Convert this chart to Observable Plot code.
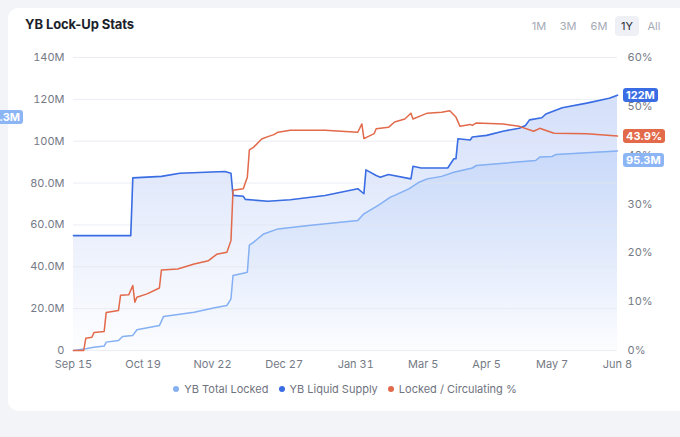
<!DOCTYPE html>
<html><head><meta charset="utf-8">
<script src="https://cdn.jsdelivr.net/npm/d3@7"></script>
<script src="https://cdn.jsdelivr.net/npm/@observablehq/plot@0.6"></script>
<style>
html,body{margin:0;padding:0;background:#f3f4f8;width:680px;height:437px;overflow:hidden;font-family:Inter,"Noto Sans",sans-serif;}
#card{position:absolute;left:8px;top:8px;width:700px;height:403px;background:#fff;border-radius:10px;}
#title{position:absolute;left:25px;top:16px;font-size:13px;font-weight:700;color:#1d1f2c;letter-spacing:-0.1px;}
.btn{position:absolute;top:16px;height:20px;line-height:20px;font-size:11px;color:#a6aab5;text-align:center;border-radius:4px;}
.btn.on{background:#eef0f6;color:#2b2d38;}
#chart{position:absolute;left:0;top:0;}
.badge{position:absolute;height:14px;line-height:14px;padding:0 3px;font-size:11px;font-weight:700;color:#fff;border-radius:3px;}
#legend{position:absolute;top:382px;left:0;width:690px;text-align:center;font-size:11px;color:#6f7380;}
#legend span.item{margin:0 5px;}
#legend span.dot{display:inline-block;width:6px;height:6px;border-radius:50%;margin-right:5px;vertical-align:1px;}
</style></head>
<body>
<div id="card"></div>
<div id="title">YB Lock-Up Stats</div>
<div id="btns"></div>
<div id="chart"></div>
<div id="badges"></div>
<div id="legend"></div>
<script>
// ---- data ----
const ranges = ["1M","3M","6M","1Y","All"];
const activeRange = "1Y";
const seriesNames = ["YB Total Locked","YB Liquid Supply","Locked / Circulating %"];
const seriesColors = ["#85b0f3","#3a6de3","#e2694a"];

const xStart = "2024-09-15", xEnd = "2025-06-08";
const xTicks = ["2024-09-15","2024-10-19","2024-11-22","2024-12-27","2025-01-31","2025-03-05","2025-04-05","2025-05-07","2025-06-08"];
const yTicks = [0,20,40,60,80,100,120,140];
const yTickLabels = ["0","20.0M","40.0M","60.0M","80.0M","100M","120M","140M"];
const pctTicks = [0,10,20,30,40,50,60];

const liquidDates = ["2024-09-15","2024-10-13","2024-10-14","2024-10-28","2024-11-06","2024-11-28","2024-12-01","2024-12-02","2024-12-07","2024-12-08","2024-12-19","2024-12-30","2025-01-16","2025-02-01","2025-02-04","2025-02-05","2025-02-10","2025-02-12","2025-02-16","2025-02-27","2025-02-28","2025-03-04","2025-03-17","2025-03-20","2025-03-21","2025-03-22","2025-03-28","2025-03-29","2025-04-05","2025-04-13","2025-04-21","2025-04-24","2025-04-26","2025-05-02","2025-05-04","2025-05-12","2025-05-24","2025-06-04","2025-06-08"];
const liquidVals  = [54.9,54.9,82.5,83.2,84.7,85.5,84.7,74.1,73.7,72.2,71.3,72.0,74.1,77.3,74.9,86.3,83.6,82.8,84.1,82.0,88.0,87.2,87.2,91.6,91.6,101.2,100.6,102.0,102.8,104.8,106.2,107.5,110.2,111.2,113.0,116.0,118.2,120.5,122.0];

const lockedDates = ["2024-09-15","2024-09-21","2024-09-25","2024-09-30","2024-10-01","2024-10-07","2024-10-09","2024-10-14","2024-10-16","2024-10-27","2024-10-29","2024-11-13","2024-11-23","2024-11-29","2024-12-01","2024-12-02","2024-12-07","2024-12-09","2024-12-10","2024-12-12","2024-12-17","2024-12-24","2025-01-08","2025-02-01","2025-02-04","2025-02-11","2025-02-17","2025-02-19","2025-02-26","2025-03-03","2025-03-07","2025-03-14","2025-03-20","2025-03-29","2025-03-31","2025-04-29","2025-05-01","2025-05-07","2025-05-09","2025-06-08"];
const lockedVals  = [0,0.8,1.6,2.1,4.0,4.8,6.7,7.2,9.9,11.9,16.2,18.3,20.4,21.5,24.7,35.8,36.9,37.4,50.4,51.7,55.7,58.1,59.7,62.1,65.3,69.3,73.3,74.1,77.2,80.4,82.0,83.2,85.2,87.2,88.4,90.8,92.4,92.7,93.7,95.3];

const pctDates = ["2024-09-15","2024-09-20","2024-09-21","2024-09-24","2024-09-25","2024-09-30","2024-10-01","2024-10-07","2024-10-08","2024-10-12","2024-10-14","2024-10-15","2024-10-16","2024-10-21","2024-10-27","2024-10-28","2024-11-05","2024-11-13","2024-11-20","2024-11-24","2024-11-29","2024-12-01","2024-12-02","2024-12-07","2024-12-09","2024-12-10","2024-12-12","2024-12-16","2024-12-19","2024-12-22","2024-12-24","2024-12-30","2025-01-16","2025-02-01","2025-02-03","2025-02-04","2025-02-09","2025-02-10","2025-02-16","2025-02-19","2025-02-24","2025-02-27","2025-02-28","2025-03-04","2025-03-07","2025-03-14","2025-03-18","2025-03-21","2025-03-23","2025-03-28","2025-03-29","2025-03-31","2025-04-13","2025-04-21","2025-04-28","2025-05-01","2025-05-03","2025-05-08","2025-05-24","2025-06-08"];
const pctVals  = [0,0,2.5,2.7,3.7,3.9,7.8,8.2,11.3,11.4,13.3,9.9,10.9,11.6,12.8,16.5,16.7,17.7,18.4,19.7,20.1,22.5,32.8,33.1,35.5,41.1,41.6,43.3,43.8,44.2,44.7,45.1,45.1,44.7,46.4,43.4,44.4,45.4,45.7,46.8,47.4,48.6,47.4,48.1,48.6,48.8,49.1,47.8,45.9,46.3,46.1,46.6,46.4,45.9,44.9,45.5,45.2,44.5,44.4,43.9];

const pointerLabel = "111.3M";

// ---- build ----
const parse = d3.utcParse("%Y-%m-%d");
const K = 140/60;
const liquid = liquidDates.map((d,i)=>({date:parse(d), value:liquidVals[i]}));
const locked = lockedDates.map((d,i)=>({date:parse(d), value:lockedVals[i]}));
const pct = pctDates.map((d,i)=>({date:parse(d), value:pctVals[i]}));

const plot = Plot.plot({
  width: 680, height: 375,
  marginLeft: 73, marginRight: 63, marginTop: 57, marginBottom: 25,
  style: {fontFamily: "Inter, 'Noto Sans', sans-serif", fontSize: "11px", color: "#757a86", background: "transparent", overflow: "visible"},
  x: {type: "utc", domain: [parse(xStart), parse(xEnd)]},
  y: {domain: [0, 140]},
  marks: [
    Plot.areaY(liquid, {x: "date", y: "value", fill: "url(#gLiquid)"}),
    Plot.areaY(locked, {x: "date", y: "value", fill: "url(#gLocked)"}),
    Plot.ruleY(yTicks, {stroke: "#e3e6ee", strokeOpacity: 0.7, strokeWidth: 1}),
    Plot.lineY(locked, {x: "date", y: "value", stroke: seriesColors[0], strokeWidth: 1.5}),
    Plot.lineY(liquid, {x: "date", y: "value", stroke: seriesColors[1], strokeWidth: 1.6}),
    Plot.lineY(pct, {x: "date", y: d => d.value * K, stroke: seriesColors[2], strokeWidth: 1.5}),
    Plot.axisX({ticks: xTicks.map(parse), tickFormat: d3.utcFormat("%b %-d"), tickSize: 0, tickPadding: 10, label: null}),
    Plot.axisY({ticks: yTicks, tickFormat: d => yTickLabels[yTicks.indexOf(d)], tickSize: 0, tickPadding: 9, label: null}),
    Plot.axisY({anchor: "right", ticks: pctTicks.map(p => p * K), tickFormat: v => Math.round(v / K) + "%", tickSize: 0, tickPadding: 10, label: null, textAnchor: "start"})
  ]
});

const svg = d3.select(plot);
const defs = svg.insert("defs", ":first-child");
function grad(id, color, o1, o2) {
  const g = defs.append("linearGradient").attr("id", id).attr("gradientUnits", "userSpaceOnUse")
    .attr("x1", 0).attr("x2", 0).attr("y1", 57).attr("y2", 350);
  g.append("stop").attr("offset", 0).attr("stop-color", color).attr("stop-opacity", o1);
  g.append("stop").attr("offset", 1).attr("stop-color", color).attr("stop-opacity", o2);
}
grad("gLiquid", "#5a85ea", 0.30, 0.01);
grad("gLocked", "#7eaaf3", 0.30, 0.01);
document.getElementById("chart").appendChild(plot);

// buttons
const btnX = [539, 568, 599, 627, 654];
const btns = document.getElementById("btns");
ranges.forEach((r, i) => {
  const b = document.createElement("div");
  b.className = "btn" + (r === activeRange ? " on" : "");
  b.textContent = r;
  b.style.left = (btnX[i] - 12) + "px";
  b.style.width = "24px";
  btns.appendChild(b);
});

// end badges
const ys = plot.scale("y");
const badges = document.getElementById("badges");
function badge(text, color, yc, left, right) {
  const b = document.createElement("div");
  b.className = "badge";
  b.textContent = text;
  b.style.background = color;
  b.style.top = (yc - 7) + "px";
  if (right != null) b.style.right = right + "px"; else b.style.left = left + "px";
  badges.appendChild(b);
}
const yLiq = ys.apply(liquidVals[liquidVals.length - 1]);
const yPct = ys.apply(pctVals[pctVals.length - 1] * K);
const yLock = Math.max(ys.apply(lockedVals[lockedVals.length - 1]), yPct + 24);
badge(liquidVals[liquidVals.length - 1] + "M", seriesColors[1], yLiq, 623);
badge(pctVals[pctVals.length - 1] + "%", seriesColors[2], yPct, 623);
badge(lockedVals[lockedVals.length - 1] + "M", "#8cb5f5", yLock, 623);
badge(pointerLabel, "#8cb5f5", ys.apply(111.3), null, 657);

// legend
const lg = document.getElementById("legend");
seriesNames.forEach((n, i) => {
  const s = document.createElement("span");
  s.className = "item";
  s.innerHTML = `<span class="dot" style="background:${seriesColors[i]}"></span>${n}`;
  lg.appendChild(s);
});
</script>
</body></html>
